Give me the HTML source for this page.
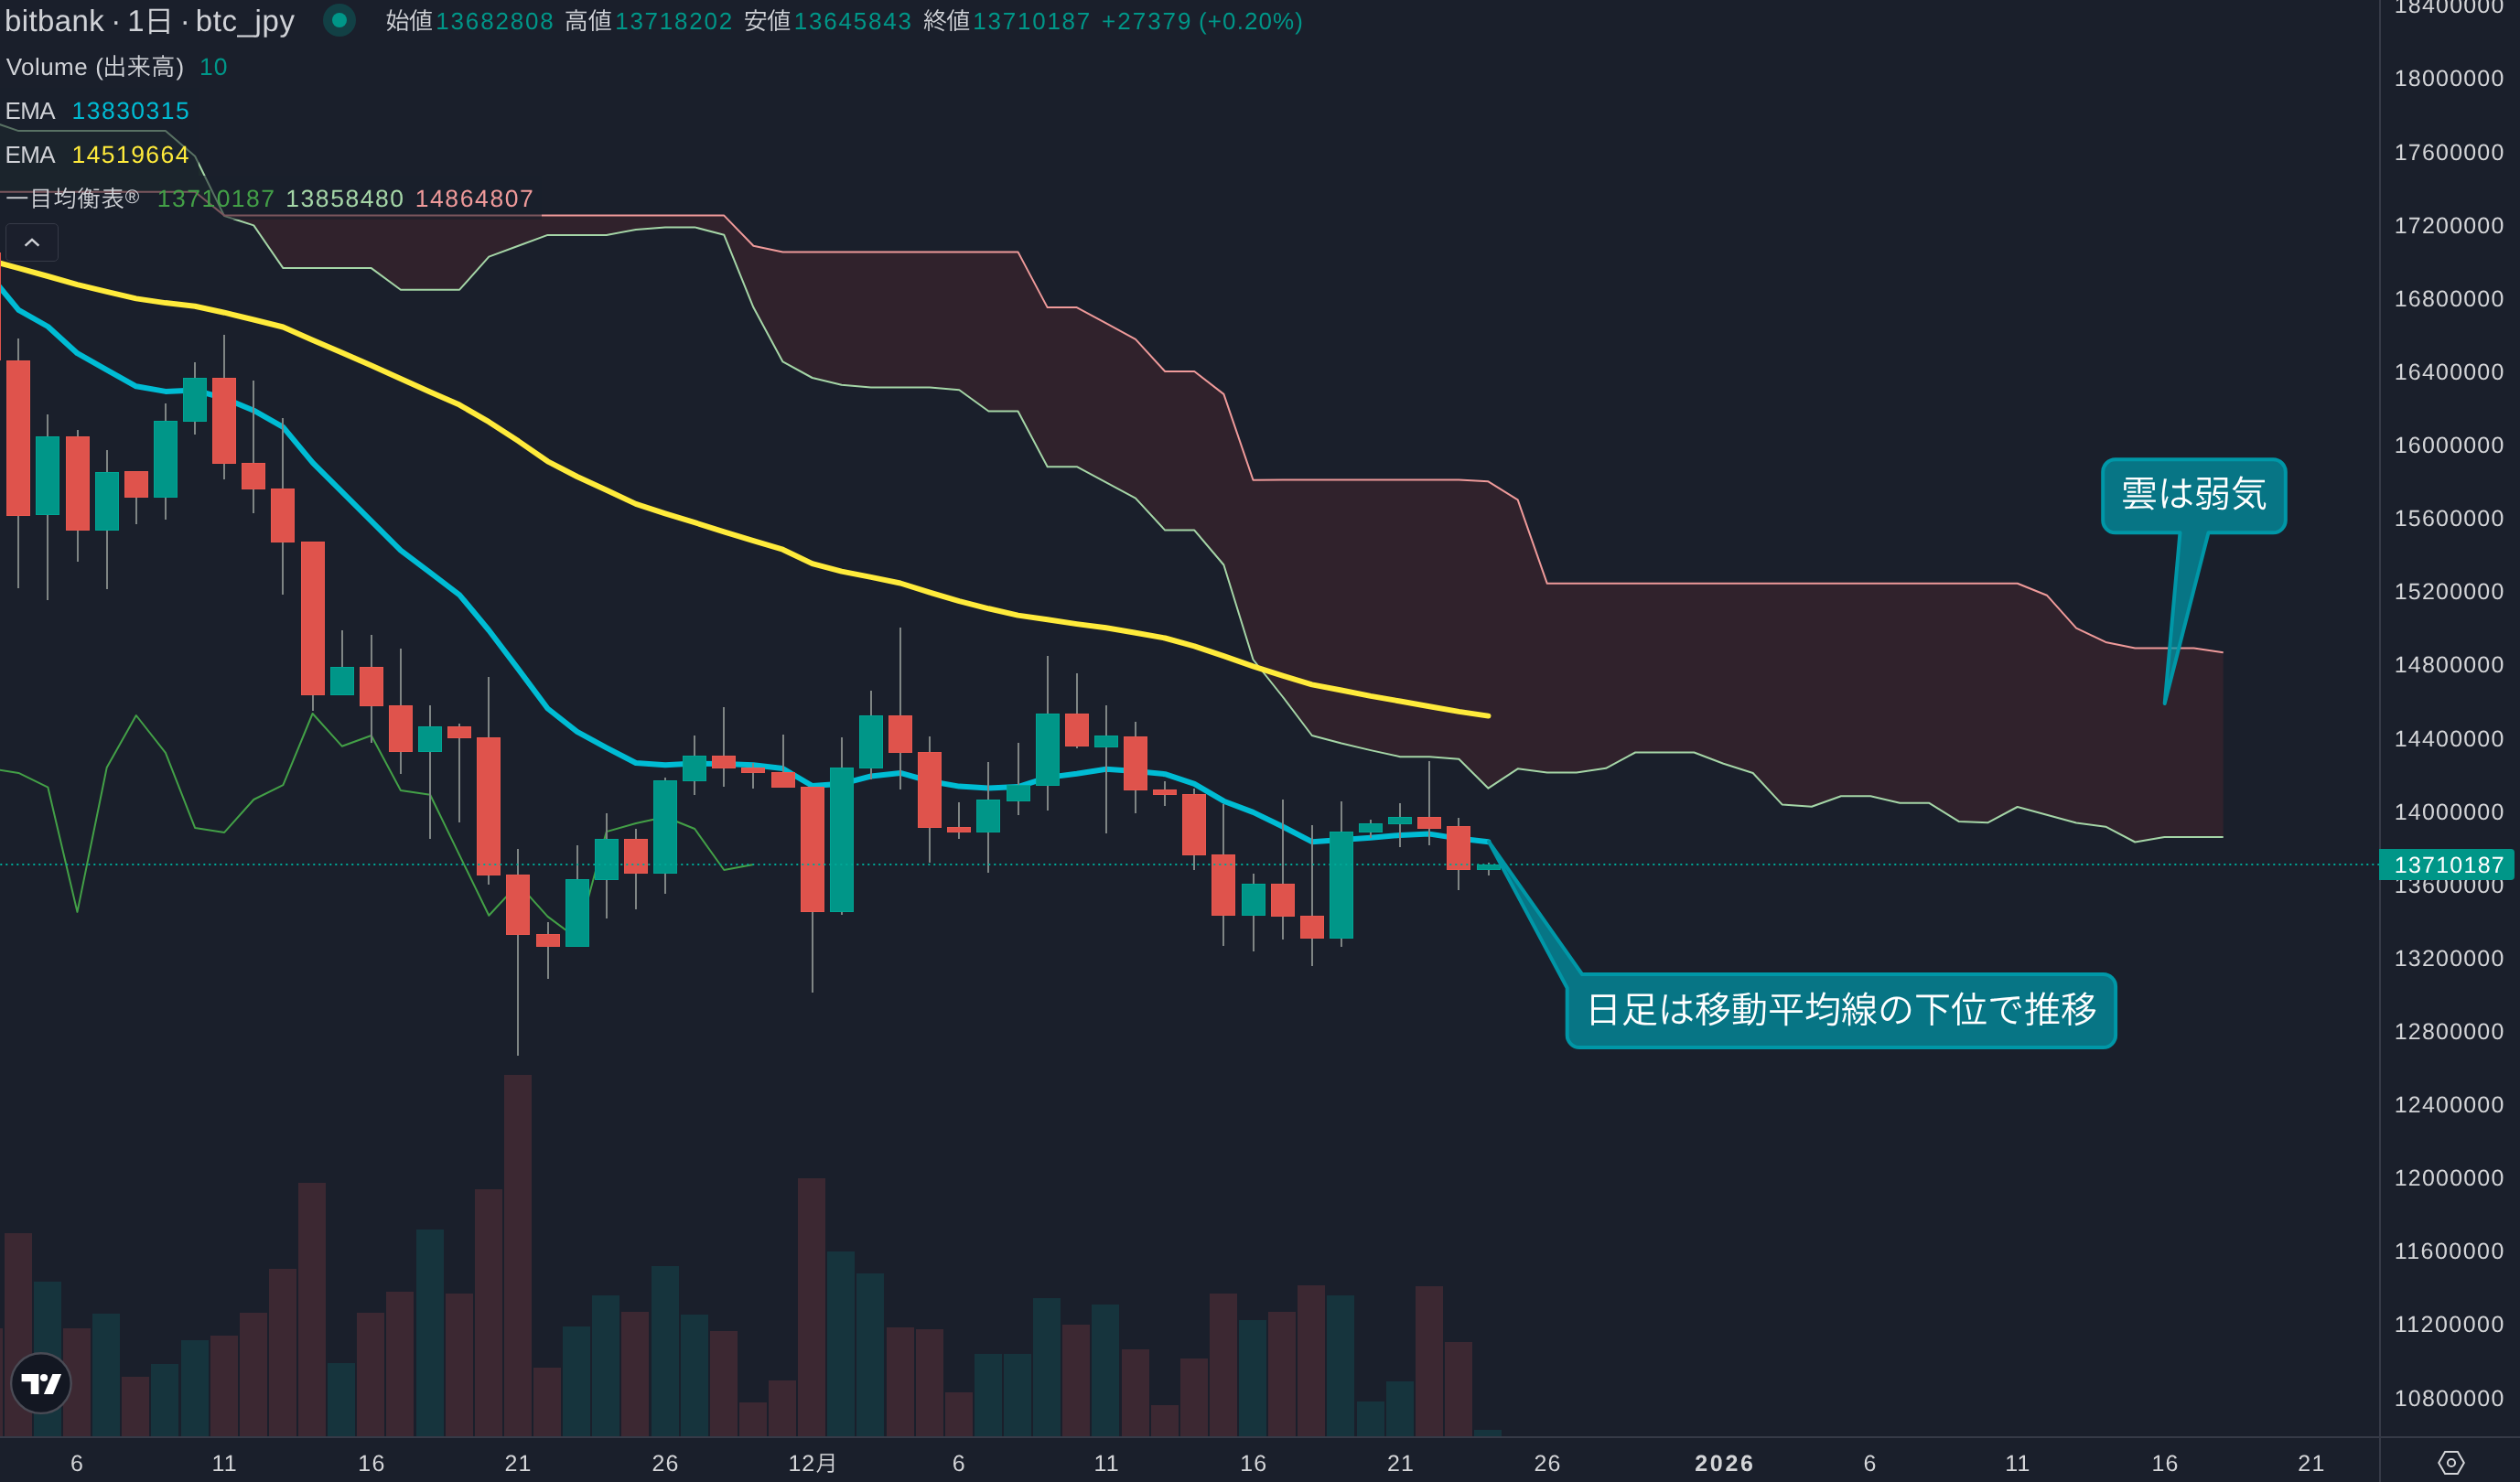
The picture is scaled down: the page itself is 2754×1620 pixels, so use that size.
<!DOCTYPE html>
<html lang="ja"><head><meta charset="utf-8"><title>bitbank btc_jpy</title>
<style>html,body{margin:0;padding:0;background:#1a1f2b;overflow:hidden}svg{display:block}text{text-rendering:geometricPrecision}</style></head>
<body>
<svg width="2754" height="1620" viewBox="0 0 2754 1620" style="display:block;will-change:transform">
<rect width="2754" height="1620" fill="#1a1f2b"/>
<defs><clipPath id="pane"><rect x="0" y="0" width="2600" height="1570"/></clipPath></defs>
<g clip-path="url(#pane)">
<g shape-rendering="crispEdges">
<rect x="-27" y="1452" width="30" height="118" fill="#3c2832"/>
<rect x="5" y="1348" width="30" height="222" fill="#3c2832"/>
<rect x="37" y="1401" width="30" height="169" fill="#16343d"/>
<rect x="69" y="1452" width="30" height="118" fill="#3c2832"/>
<rect x="101" y="1436" width="30" height="134" fill="#16343d"/>
<rect x="133" y="1505" width="30" height="65" fill="#3c2832"/>
<rect x="165" y="1491" width="30" height="79" fill="#16343d"/>
<rect x="198" y="1465" width="30" height="105" fill="#16343d"/>
<rect x="230" y="1460" width="30" height="110" fill="#3c2832"/>
<rect x="262" y="1435" width="30" height="135" fill="#3c2832"/>
<rect x="294" y="1387" width="30" height="183" fill="#3c2832"/>
<rect x="326" y="1293" width="30" height="277" fill="#3c2832"/>
<rect x="358" y="1490" width="30" height="80" fill="#16343d"/>
<rect x="390" y="1435" width="30" height="135" fill="#3c2832"/>
<rect x="422" y="1412" width="30" height="158" fill="#3c2832"/>
<rect x="455" y="1344" width="30" height="226" fill="#16343d"/>
<rect x="487" y="1414" width="30" height="156" fill="#3c2832"/>
<rect x="519" y="1300" width="30" height="270" fill="#3c2832"/>
<rect x="551" y="1175" width="30" height="395" fill="#3c2832"/>
<rect x="583" y="1495" width="30" height="75" fill="#3c2832"/>
<rect x="615" y="1450" width="30" height="120" fill="#16343d"/>
<rect x="647" y="1416" width="30" height="154" fill="#16343d"/>
<rect x="679" y="1434" width="30" height="136" fill="#3c2832"/>
<rect x="712" y="1384" width="30" height="186" fill="#16343d"/>
<rect x="744" y="1437" width="30" height="133" fill="#16343d"/>
<rect x="776" y="1455" width="30" height="115" fill="#3c2832"/>
<rect x="808" y="1533" width="30" height="37" fill="#3c2832"/>
<rect x="840" y="1509" width="30" height="61" fill="#3c2832"/>
<rect x="872" y="1288" width="30" height="282" fill="#3c2832"/>
<rect x="904" y="1368" width="30" height="202" fill="#16343d"/>
<rect x="936" y="1392" width="30" height="178" fill="#16343d"/>
<rect x="969" y="1451" width="30" height="119" fill="#3c2832"/>
<rect x="1001" y="1453" width="30" height="117" fill="#3c2832"/>
<rect x="1033" y="1522" width="30" height="48" fill="#3c2832"/>
<rect x="1065" y="1480" width="30" height="90" fill="#16343d"/>
<rect x="1097" y="1480" width="30" height="90" fill="#16343d"/>
<rect x="1129" y="1419" width="30" height="151" fill="#16343d"/>
<rect x="1161" y="1448" width="30" height="122" fill="#3c2832"/>
<rect x="1193" y="1426" width="30" height="144" fill="#16343d"/>
<rect x="1226" y="1475" width="30" height="95" fill="#3c2832"/>
<rect x="1258" y="1536" width="30" height="34" fill="#3c2832"/>
<rect x="1290" y="1485" width="30" height="85" fill="#3c2832"/>
<rect x="1322" y="1414" width="30" height="156" fill="#3c2832"/>
<rect x="1354" y="1443" width="30" height="127" fill="#16343d"/>
<rect x="1386" y="1434" width="30" height="136" fill="#3c2832"/>
<rect x="1418" y="1405" width="30" height="165" fill="#3c2832"/>
<rect x="1450" y="1416" width="30" height="154" fill="#16343d"/>
<rect x="1483" y="1532" width="30" height="38" fill="#16343d"/>
<rect x="1515" y="1510" width="30" height="60" fill="#16343d"/>
<rect x="1547" y="1406" width="30" height="164" fill="#3c2832"/>
<rect x="1579" y="1467" width="30" height="103" fill="#3c2832"/>
<rect x="1611" y="1563" width="30" height="7" fill="#16343d"/>
</g>
<polygon points="-11.8,132.0 20.3,143.1 52.4,143.1 84.5,143.1 116.7,143.1 148.8,143.1 180.9,143.1 213.1,170.8 245.2,236.1 245.2,235.6 213.1,209.7 180.9,209.7 148.8,209.7 116.7,209.7 84.5,209.7 52.4,209.7 20.3,209.7 -11.8,209.7" fill="rgba(67,160,71,0.10)"/>
<polygon points="245.2,236.1 277.3,246.4 309.4,293.1 341.6,293.1 373.7,293.1 405.8,293.1 437.9,316.7 470.1,316.7 502.2,316.7 534.3,280.6 566.4,268.7 598.5,256.9 630.7,256.9 662.8,256.9 694.9,250.9 727.0,248.4 759.2,248.4 791.3,256.8 823.4,336.1 855.5,395.4 887.7,413.0 919.8,420.7 951.9,423.5 984.0,423.5 1016.2,423.5 1048.3,426.3 1080.4,449.5 1112.5,449.5 1144.7,510.2 1176.8,510.2 1208.9,527.4 1241.0,544.6 1273.2,579.6 1305.3,579.6 1337.4,617.5 1369.5,721.0 1401.7,761.5 1433.8,804.0 1465.9,812.5 1498.0,820.1 1530.2,827.2 1562.3,827.2 1594.4,829.7 1626.5,861.7 1658.7,840.3 1690.8,844.4 1722.9,844.4 1755.0,839.8 1787.2,822.5 1819.3,822.5 1851.4,822.5 1883.5,834.7 1915.7,845.0 1947.8,879.6 1979.9,881.7 2012.0,870.3 2044.2,870.3 2076.3,877.8 2108.4,877.8 2140.6,897.9 2172.7,899.2 2204.8,882.0 2236.9,890.7 2269.1,899.5 2301.2,903.7 2333.3,920.5 2365.4,915.0 2397.6,915.0 2429.7,915.0 2429.7,713.2 2397.6,708.4 2365.4,708.4 2333.3,708.4 2301.2,701.9 2269.1,686.7 2236.9,650.7 2204.8,637.8 2172.7,637.8 2140.6,637.8 2108.4,637.8 2076.3,637.8 2044.2,637.8 2012.0,637.8 1979.9,637.8 1947.8,637.8 1915.7,637.8 1883.5,637.8 1851.4,637.8 1819.3,637.8 1787.2,637.8 1755.0,637.8 1722.9,637.8 1690.8,637.8 1658.7,546.4 1626.5,526.3 1594.4,524.5 1562.3,524.5 1530.2,524.5 1498.0,524.5 1465.9,524.5 1433.8,524.5 1401.7,524.5 1369.5,524.7 1337.4,430.9 1305.3,406.0 1273.2,406.0 1241.0,370.9 1208.9,353.3 1176.8,336.1 1144.7,336.1 1112.5,275.4 1080.4,275.4 1048.3,275.4 1016.2,275.4 984.0,275.4 951.9,275.4 919.8,275.4 887.7,275.4 855.5,275.4 823.4,268.8 791.3,235.6 759.2,235.6 727.0,235.6 694.9,235.6 662.8,235.6 630.7,235.6 598.5,235.6 566.4,235.6 534.3,235.6 502.2,235.6 470.1,235.6 437.9,235.6 405.8,235.6 373.7,235.6 341.6,235.6 309.4,235.6 277.3,235.6 245.2,235.6" fill="rgba(244,67,54,0.10)"/>
<polyline points="-11.8,132.0 20.3,143.1 52.4,143.1 84.5,143.1 116.7,143.1 148.8,143.1 180.9,143.1 213.1,170.8 245.2,236.1 277.3,246.4 309.4,293.1 341.6,293.1 373.7,293.1 405.8,293.1 437.9,316.7 470.1,316.7 502.2,316.7 534.3,280.6 566.4,268.7 598.5,256.9 630.7,256.9 662.8,256.9 694.9,250.9 727.0,248.4 759.2,248.4 791.3,256.8 823.4,336.1 855.5,395.4 887.7,413.0 919.8,420.7 951.9,423.5 984.0,423.5 1016.2,423.5 1048.3,426.3 1080.4,449.5 1112.5,449.5 1144.7,510.2 1176.8,510.2 1208.9,527.4 1241.0,544.6 1273.2,579.6 1305.3,579.6 1337.4,617.5 1369.5,721.0 1401.7,761.5 1433.8,804.0 1465.9,812.5 1498.0,820.1 1530.2,827.2 1562.3,827.2 1594.4,829.7 1626.5,861.7 1658.7,840.3 1690.8,844.4 1722.9,844.4 1755.0,839.8 1787.2,822.5 1819.3,822.5 1851.4,822.5 1883.5,834.7 1915.7,845.0 1947.8,879.6 1979.9,881.7 2012.0,870.3 2044.2,870.3 2076.3,877.8 2108.4,877.8 2140.6,897.9 2172.7,899.2 2204.8,882.0 2236.9,890.7 2269.1,899.5 2301.2,903.7 2333.3,920.5 2365.4,915.0 2397.6,915.0 2429.7,915.0" fill="none" stroke="#a5d6a7" stroke-width="2" stroke-linejoin="round"/>
<polyline points="-11.8,209.7 20.3,209.7 52.4,209.7 84.5,209.7 116.7,209.7 148.8,209.7 180.9,209.7 213.1,209.7 245.2,235.6 277.3,235.6 309.4,235.6 341.6,235.6 373.7,235.6 405.8,235.6 437.9,235.6 470.1,235.6 502.2,235.6 534.3,235.6 566.4,235.6 598.5,235.6 630.7,235.6 662.8,235.6 694.9,235.6 727.0,235.6 759.2,235.6 791.3,235.6 823.4,268.8 855.5,275.4 887.7,275.4 919.8,275.4 951.9,275.4 984.0,275.4 1016.2,275.4 1048.3,275.4 1080.4,275.4 1112.5,275.4 1144.7,336.1 1176.8,336.1 1208.9,353.3 1241.0,370.9 1273.2,406.0 1305.3,406.0 1337.4,430.9 1369.5,524.7 1401.7,524.5 1433.8,524.5 1465.9,524.5 1498.0,524.5 1530.2,524.5 1562.3,524.5 1594.4,524.5 1626.5,526.3 1658.7,546.4 1690.8,637.8 1722.9,637.8 1755.0,637.8 1787.2,637.8 1819.3,637.8 1851.4,637.8 1883.5,637.8 1915.7,637.8 1947.8,637.8 1979.9,637.8 2012.0,637.8 2044.2,637.8 2076.3,637.8 2108.4,637.8 2140.6,637.8 2172.7,637.8 2204.8,637.8 2236.9,650.7 2269.1,686.7 2301.2,701.9 2333.3,708.4 2365.4,708.4 2397.6,708.4 2429.7,713.2" fill="none" stroke="#ef9a9a" stroke-width="2" stroke-linejoin="round"/>
<polyline points="-11.8,839.8 20.3,844.9 52.4,860.7 84.5,996.9 116.7,839.0 148.8,782.0 180.9,822.9 213.1,904.9 245.2,909.9 277.3,874.0 309.4,858.2 341.6,780.0 373.7,815.7 405.8,804.0 437.9,864.0 470.1,868.8 502.2,934.9 534.3,1000.8 566.4,966.1 598.5,1001.9 630.7,1025.8 662.8,909.1 694.9,900.0 727.0,893.0 759.2,906.0 791.3,951.0 823.4,945.0" fill="none" stroke="#43a047" stroke-width="2" stroke-linejoin="round"/>
<polyline points="-11.8,284.5 20.3,293.2 52.4,302.0 84.5,311.1 116.7,318.9 148.8,326.4 180.9,331.1 213.1,334.8 245.2,341.7 277.3,349.5 309.4,357.5 341.6,371.7 373.7,385.6 405.8,399.5 437.9,414.0 470.1,428.4 502.2,442.6 534.3,461.2 566.4,482.1 598.5,504.3 630.7,521.0 662.8,535.7 694.9,550.9 727.0,561.4 759.2,571.2 791.3,581.4 823.4,591.2 855.5,600.7 887.7,616.1 919.8,624.6 951.9,630.9 984.0,637.5 1016.2,647.7 1048.3,657.2 1080.4,665.3 1112.5,672.6 1144.7,677.2 1176.8,682.1 1208.9,686.3 1241.0,691.7 1273.2,697.5 1305.3,706.3 1337.4,717.2 1369.5,728.4 1401.7,738.7 1433.8,748.4 1465.9,754.5 1498.0,760.9 1530.2,766.5 1562.3,772.3 1594.4,777.9 1626.5,782.6" fill="none" stroke="#ffeb3b" stroke-width="6" stroke-linejoin="round" stroke-linecap="round"/>
<polyline points="-11.8,300.0 20.3,338.9 52.4,357.0 84.5,386.2 116.7,404.3 148.8,422.3 180.9,427.9 213.1,426.5 245.2,435.4 277.3,448.7 309.4,466.8 341.6,505.7 373.7,537.7 405.8,569.7 437.9,601.6 470.1,625.8 502.2,650.3 534.3,689.0 566.4,731.4 598.5,774.5 630.7,799.8 662.8,817.3 694.9,834.0 727.0,836.2 759.2,834.6 791.3,835.1 823.4,836.2 855.5,840.1 887.7,859.0 919.8,856.8 951.9,848.5 984.0,844.9 1016.2,854.0 1048.3,859.6 1080.4,861.5 1112.5,860.1 1144.7,849.9 1176.8,845.7 1208.9,840.7 1241.0,842.9 1273.2,846.2 1305.3,856.8 1337.4,875.7 1369.5,887.9 1401.7,903.5 1433.8,920.2 1465.9,918.0 1498.0,915.7 1530.2,913.0 1562.3,911.6 1594.4,916.6 1626.5,920.2" fill="none" stroke="#00bcd4" stroke-width="6" stroke-linejoin="round" stroke-linecap="round"/>
<g shape-rendering="crispEdges">
<rect x="-25" y="276" width="26" height="118" fill="#df534c"/>
<rect x="19" y="370" width="2" height="273" fill="#7f8584"/>
<rect x="7" y="394" width="26" height="170" fill="#e9584f"/>
<rect x="8" y="395" width="24" height="168" fill="#df534c"/>
<rect x="51" y="453" width="2" height="203" fill="#7f8584"/>
<rect x="39" y="477" width="26" height="86" fill="#00a594"/>
<rect x="40" y="478" width="24" height="84" fill="#009688"/>
<rect x="84" y="470" width="2" height="144" fill="#7f8584"/>
<rect x="72" y="477" width="26" height="103" fill="#e9584f"/>
<rect x="73" y="478" width="24" height="101" fill="#df534c"/>
<rect x="116" y="492" width="2" height="152" fill="#7f8584"/>
<rect x="104" y="516" width="26" height="64" fill="#00a594"/>
<rect x="105" y="517" width="24" height="62" fill="#009688"/>
<rect x="148" y="515" width="2" height="58" fill="#7f8584"/>
<rect x="136" y="515" width="26" height="29" fill="#e9584f"/>
<rect x="137" y="516" width="24" height="27" fill="#df534c"/>
<rect x="180" y="441" width="2" height="127" fill="#7f8584"/>
<rect x="168" y="460" width="26" height="84" fill="#00a594"/>
<rect x="169" y="461" width="24" height="82" fill="#009688"/>
<rect x="212" y="396" width="2" height="79" fill="#7f8584"/>
<rect x="200" y="413" width="26" height="48" fill="#00a594"/>
<rect x="201" y="414" width="24" height="46" fill="#009688"/>
<rect x="244" y="366" width="2" height="158" fill="#7f8584"/>
<rect x="232" y="413" width="26" height="94" fill="#e9584f"/>
<rect x="233" y="414" width="24" height="92" fill="#df534c"/>
<rect x="276" y="416" width="2" height="145" fill="#7f8584"/>
<rect x="264" y="506" width="26" height="29" fill="#e9584f"/>
<rect x="265" y="507" width="24" height="27" fill="#df534c"/>
<rect x="308" y="457" width="2" height="193" fill="#7f8584"/>
<rect x="296" y="534" width="26" height="59" fill="#e9584f"/>
<rect x="297" y="535" width="24" height="57" fill="#df534c"/>
<rect x="341" y="592" width="2" height="185" fill="#7f8584"/>
<rect x="329" y="592" width="26" height="168" fill="#e9584f"/>
<rect x="330" y="593" width="24" height="166" fill="#df534c"/>
<rect x="373" y="689" width="2" height="71" fill="#7f8584"/>
<rect x="361" y="729" width="26" height="31" fill="#00a594"/>
<rect x="362" y="730" width="24" height="29" fill="#009688"/>
<rect x="405" y="694" width="2" height="118" fill="#7f8584"/>
<rect x="393" y="729" width="26" height="43" fill="#e9584f"/>
<rect x="394" y="730" width="24" height="41" fill="#df534c"/>
<rect x="437" y="709" width="2" height="137" fill="#7f8584"/>
<rect x="425" y="771" width="26" height="51" fill="#e9584f"/>
<rect x="426" y="772" width="24" height="49" fill="#df534c"/>
<rect x="469" y="771" width="2" height="146" fill="#7f8584"/>
<rect x="457" y="794" width="26" height="28" fill="#00a594"/>
<rect x="458" y="795" width="24" height="26" fill="#009688"/>
<rect x="501" y="791" width="2" height="108" fill="#7f8584"/>
<rect x="489" y="794" width="26" height="13" fill="#e9584f"/>
<rect x="490" y="795" width="24" height="11" fill="#df534c"/>
<rect x="533" y="740" width="2" height="227" fill="#7f8584"/>
<rect x="521" y="806" width="26" height="151" fill="#e9584f"/>
<rect x="522" y="807" width="24" height="149" fill="#df534c"/>
<rect x="565" y="928" width="2" height="226" fill="#7f8584"/>
<rect x="553" y="956" width="26" height="66" fill="#e9584f"/>
<rect x="554" y="957" width="24" height="64" fill="#df534c"/>
<rect x="598" y="1008" width="2" height="62" fill="#7f8584"/>
<rect x="586" y="1021" width="26" height="14" fill="#e9584f"/>
<rect x="587" y="1022" width="24" height="12" fill="#df534c"/>
<rect x="630" y="924" width="2" height="111" fill="#7f8584"/>
<rect x="618" y="961" width="26" height="74" fill="#00a594"/>
<rect x="619" y="962" width="24" height="72" fill="#009688"/>
<rect x="662" y="889" width="2" height="115" fill="#7f8584"/>
<rect x="650" y="917" width="26" height="45" fill="#00a594"/>
<rect x="651" y="918" width="24" height="43" fill="#009688"/>
<rect x="694" y="906" width="2" height="88" fill="#7f8584"/>
<rect x="682" y="917" width="26" height="38" fill="#e9584f"/>
<rect x="683" y="918" width="24" height="36" fill="#df534c"/>
<rect x="726" y="850" width="2" height="127" fill="#7f8584"/>
<rect x="714" y="853" width="26" height="102" fill="#00a594"/>
<rect x="715" y="854" width="24" height="100" fill="#009688"/>
<rect x="758" y="804" width="2" height="65" fill="#7f8584"/>
<rect x="746" y="826" width="26" height="28" fill="#00a594"/>
<rect x="747" y="827" width="24" height="26" fill="#009688"/>
<rect x="790" y="773" width="2" height="87" fill="#7f8584"/>
<rect x="778" y="826" width="26" height="14" fill="#e9584f"/>
<rect x="779" y="827" width="24" height="12" fill="#df534c"/>
<rect x="822" y="834" width="2" height="28" fill="#7f8584"/>
<rect x="810" y="839" width="26" height="6" fill="#e9584f"/>
<rect x="811" y="840" width="24" height="4" fill="#df534c"/>
<rect x="855" y="803" width="2" height="58" fill="#7f8584"/>
<rect x="843" y="844" width="26" height="17" fill="#e9584f"/>
<rect x="844" y="845" width="24" height="15" fill="#df534c"/>
<rect x="887" y="860" width="2" height="225" fill="#7f8584"/>
<rect x="875" y="860" width="26" height="137" fill="#e9584f"/>
<rect x="876" y="861" width="24" height="135" fill="#df534c"/>
<rect x="919" y="806" width="2" height="194" fill="#7f8584"/>
<rect x="907" y="839" width="26" height="158" fill="#00a594"/>
<rect x="908" y="840" width="24" height="156" fill="#009688"/>
<rect x="951" y="755" width="2" height="97" fill="#7f8584"/>
<rect x="939" y="782" width="26" height="58" fill="#00a594"/>
<rect x="940" y="783" width="24" height="56" fill="#009688"/>
<rect x="983" y="686" width="2" height="177" fill="#7f8584"/>
<rect x="971" y="782" width="26" height="41" fill="#e9584f"/>
<rect x="972" y="783" width="24" height="39" fill="#df534c"/>
<rect x="1015" y="805" width="2" height="138" fill="#7f8584"/>
<rect x="1003" y="822" width="26" height="83" fill="#e9584f"/>
<rect x="1004" y="823" width="24" height="81" fill="#df534c"/>
<rect x="1047" y="877" width="2" height="40" fill="#7f8584"/>
<rect x="1035" y="904" width="26" height="6" fill="#e9584f"/>
<rect x="1036" y="905" width="24" height="4" fill="#df534c"/>
<rect x="1079" y="833" width="2" height="121" fill="#7f8584"/>
<rect x="1067" y="874" width="26" height="36" fill="#00a594"/>
<rect x="1068" y="875" width="24" height="34" fill="#009688"/>
<rect x="1112" y="812" width="2" height="79" fill="#7f8584"/>
<rect x="1100" y="858" width="26" height="18" fill="#00a594"/>
<rect x="1101" y="859" width="24" height="16" fill="#009688"/>
<rect x="1144" y="717" width="2" height="169" fill="#7f8584"/>
<rect x="1132" y="780" width="26" height="79" fill="#00a594"/>
<rect x="1133" y="781" width="24" height="77" fill="#009688"/>
<rect x="1176" y="736" width="2" height="82" fill="#7f8584"/>
<rect x="1164" y="780" width="26" height="36" fill="#e9584f"/>
<rect x="1165" y="781" width="24" height="34" fill="#df534c"/>
<rect x="1208" y="771" width="2" height="140" fill="#7f8584"/>
<rect x="1196" y="804" width="26" height="13" fill="#00a594"/>
<rect x="1197" y="805" width="24" height="11" fill="#009688"/>
<rect x="1240" y="789" width="2" height="100" fill="#7f8584"/>
<rect x="1228" y="805" width="26" height="59" fill="#e9584f"/>
<rect x="1229" y="806" width="24" height="57" fill="#df534c"/>
<rect x="1272" y="854" width="2" height="27" fill="#7f8584"/>
<rect x="1260" y="863" width="26" height="6" fill="#e9584f"/>
<rect x="1261" y="864" width="24" height="4" fill="#df534c"/>
<rect x="1304" y="862" width="2" height="89" fill="#7f8584"/>
<rect x="1292" y="868" width="26" height="67" fill="#e9584f"/>
<rect x="1293" y="869" width="24" height="65" fill="#df534c"/>
<rect x="1336" y="879" width="2" height="155" fill="#7f8584"/>
<rect x="1324" y="934" width="26" height="67" fill="#e9584f"/>
<rect x="1325" y="935" width="24" height="65" fill="#df534c"/>
<rect x="1369" y="955" width="2" height="85" fill="#7f8584"/>
<rect x="1357" y="966" width="26" height="35" fill="#00a594"/>
<rect x="1358" y="967" width="24" height="33" fill="#009688"/>
<rect x="1401" y="874" width="2" height="153" fill="#7f8584"/>
<rect x="1389" y="966" width="26" height="36" fill="#e9584f"/>
<rect x="1390" y="967" width="24" height="34" fill="#df534c"/>
<rect x="1433" y="902" width="2" height="154" fill="#7f8584"/>
<rect x="1421" y="1001" width="26" height="25" fill="#e9584f"/>
<rect x="1422" y="1002" width="24" height="23" fill="#df534c"/>
<rect x="1465" y="876" width="2" height="159" fill="#7f8584"/>
<rect x="1453" y="909" width="26" height="117" fill="#00a594"/>
<rect x="1454" y="910" width="24" height="115" fill="#009688"/>
<rect x="1497" y="896" width="2" height="20" fill="#7f8584"/>
<rect x="1485" y="900" width="26" height="10" fill="#00a594"/>
<rect x="1486" y="901" width="24" height="8" fill="#009688"/>
<rect x="1529" y="878" width="2" height="48" fill="#7f8584"/>
<rect x="1517" y="893" width="26" height="8" fill="#00a594"/>
<rect x="1518" y="894" width="24" height="6" fill="#009688"/>
<rect x="1561" y="832" width="2" height="92" fill="#7f8584"/>
<rect x="1549" y="893" width="26" height="13" fill="#e9584f"/>
<rect x="1550" y="894" width="24" height="11" fill="#df534c"/>
<rect x="1593" y="894" width="2" height="79" fill="#7f8584"/>
<rect x="1581" y="903" width="26" height="48" fill="#e9584f"/>
<rect x="1582" y="904" width="24" height="46" fill="#df534c"/>
<rect x="1626" y="943" width="2" height="14" fill="#7f8584"/>
<rect x="1614" y="945" width="26" height="6" fill="#00a594"/>
<rect x="1615" y="946" width="24" height="4" fill="#009688"/>
</g>
<line x1="0.3" y1="945" x2="2600" y2="945" stroke="#00a896" stroke-width="2" stroke-dasharray="2 4"/>
</g>
<path d="M2311.7,502.3 H2484.3 A13.5,13.5 0 0 1 2497.8,515.8 V568.8 A13.5,13.5 0 0 1 2484.3,582.3 H2413.5 L2365.7,769 L2382.5,582.3 H2311.7 A13.5,13.5 0 0 1 2298.2,568.8 V515.8 A13.5,13.5 0 0 1 2311.7,502.3 Z" fill="rgba(0,151,167,0.72)" stroke="#0097a7" stroke-width="4" stroke-linejoin="round"/>
<path d="M1729,1065 H2298.6 A13.5,13.5 0 0 1 2312.1,1078.5 V1131.5 A13.5,13.5 0 0 1 2298.6,1145 H1726.2 A13.5,13.5 0 0 1 1712.7,1131.5 V1080 L1627,920 Z" fill="rgba(0,151,167,0.72)" stroke="#0097a7" stroke-width="4" stroke-linejoin="round"/>
<text x="2398" y="554.3" font-family='"Liberation Sans","Noto Sans CJK JP",sans-serif' font-size="40" font-weight="350" fill="#fff" text-anchor="middle">雲は弱気</text>
<text x="2012" y="1118.3" font-family='"Liberation Sans","Noto Sans CJK JP",sans-serif' font-size="40" font-weight="350" fill="#fff" text-anchor="middle">日足は移動平均線の下位で推移</text>
<rect x="0" y="96" width="217" height="48" fill="rgba(26,31,43,0.55)"/>
<rect x="0" y="144" width="217" height="48" fill="rgba(26,31,43,0.55)"/>
<rect x="0" y="192" width="592" height="48" fill="rgba(26,31,43,0.55)"/>
<text x="4.88" y="34.2" font-family='"Liberation Sans",sans-serif' font-size="33" fill="#d0d2d7" style="letter-spacing:0.425px">bitbank</text>
<text x="126.7" y="34.2" font-family='"Liberation Sans",sans-serif' font-size="33" fill="#d0d2d7" text-anchor="middle">·</text>
<text x="139.2" y="34.2" font-family='"Liberation Sans",sans-serif' font-size="33" fill="#d0d2d7">1</text>
<text x="157.25" y="34.6" font-family='"Liberation Sans","Noto Sans CJK JP",sans-serif' font-size="33" fill="#d0d2d7" font-weight="350" style="letter-spacing:0.000px">日</text>
<text x="202.2" y="34.2" font-family='"Liberation Sans",sans-serif' font-size="33" fill="#d0d2d7" text-anchor="middle">·</text>
<text x="213.68" y="34.2" font-family='"Liberation Sans",sans-serif' font-size="33" fill="#d0d2d7" style="letter-spacing:0.608px">btc_jpy</text>
<circle cx="371" cy="22" r="18" fill="rgba(0,150,136,0.28)"/><circle cx="371" cy="22" r="8" fill="#009688"/>
<text x="421.38" y="32.4" font-family='"Liberation Sans","Noto Sans CJK JP",sans-serif' font-size="26" fill="#d0d2d7" font-weight="350" style="letter-spacing:-0.375px">始値</text>
<text x="476.30" y="31.7" font-family='"Liberation Sans",sans-serif' font-size="26" fill="#009688" style="letter-spacing:1.825px">13682808</text>
<text x="616.67" y="32.4" font-family='"Liberation Sans","Noto Sans CJK JP",sans-serif' font-size="26" fill="#d0d2d7" font-weight="350" style="letter-spacing:0.125px">高値</text>
<text x="672.20" y="31.7" font-family='"Liberation Sans",sans-serif' font-size="26" fill="#009688" style="letter-spacing:1.746px">13718202</text>
<text x="812.70" y="32.4" font-family='"Liberation Sans","Noto Sans CJK JP",sans-serif' font-size="26" fill="#d0d2d7" font-weight="350" style="letter-spacing:-0.400px">安値</text>
<text x="867.70" y="31.7" font-family='"Liberation Sans",sans-serif' font-size="26" fill="#009688" style="letter-spacing:1.811px">13645843</text>
<text x="1009.08" y="32.4" font-family='"Liberation Sans","Noto Sans CJK JP",sans-serif' font-size="26" fill="#d0d2d7" font-weight="350" style="letter-spacing:-0.875px">終値</text>
<text x="1063.30" y="31.7" font-family='"Liberation Sans",sans-serif' font-size="26" fill="#009688" style="letter-spacing:1.761px">13710187</text>
<text x="1204.05" y="31.7" font-family='"Liberation Sans",sans-serif' font-size="26" fill="#009688" style="letter-spacing:2.000px">+27379</text>
<text x="1310.08" y="31.7" font-family='"Liberation Sans",sans-serif' font-size="26" fill="#009688" style="letter-spacing:1.096px">(+0.20%)</text>
<text x="6.67" y="81.8" font-family='"Liberation Sans",sans-serif' font-size="26" fill="#d0d2d7" style="letter-spacing:0.460px">Volume</text>
<text x="104.17" y="81.8" font-family='"Liberation Sans",sans-serif' font-size="26" fill="#d0d2d7" style="letter-spacing:0.000px">(</text>
<text x="112.33" y="81.8" font-family='"Liberation Sans","Noto Sans CJK JP",sans-serif' font-size="26" fill="#d0d2d7" font-weight="350" style="letter-spacing:0.512px">出来高</text>
<text x="192.38" y="81.8" font-family='"Liberation Sans",sans-serif' font-size="26" fill="#d0d2d7" style="letter-spacing:0.000px">)</text>
<text x="218.00" y="81.8" font-family='"Liberation Sans",sans-serif' font-size="26.5" fill="#009688" style="letter-spacing:1.000px">10</text>
<text x="5.47" y="130" font-family='"Liberation Sans",sans-serif' font-size="26" fill="#d0d2d7" style="letter-spacing:-0.613px">EMA</text>
<text x="78.50" y="130.1" font-family='"Liberation Sans",sans-serif' font-size="26.5" fill="#00bcd4" style="letter-spacing:1.479px">13830315</text>
<text x="5.47" y="178.2" font-family='"Liberation Sans",sans-serif' font-size="26" fill="#d0d2d7" style="letter-spacing:-0.613px">EMA</text>
<text x="78.50" y="178.3" font-family='"Liberation Sans",sans-serif' font-size="26.5" fill="#ffeb3b" style="letter-spacing:1.425px">14519664</text>
<text x="6.28" y="226.2" font-family='"Liberation Sans","Noto Sans CJK JP",sans-serif' font-size="25" fill="#d0d2d7" font-weight="350" style="letter-spacing:1.100px">一目均衡表</text>
<text x="136.85" y="222" font-family='"Liberation Sans",sans-serif' font-size="21" fill="#d0d2d7" style="letter-spacing:0.000px">®</text>
<text x="171.80" y="226.2" font-family='"Liberation Sans",sans-serif' font-size="26.5" fill="#43a047" style="letter-spacing:1.471px">13710187</text>
<text x="312.30" y="226.2" font-family='"Liberation Sans",sans-serif' font-size="26.5" fill="#a5d6a7" style="letter-spacing:1.546px">13858480</text>
<text x="453.70" y="226.2" font-family='"Liberation Sans",sans-serif' font-size="26.5" fill="#ef9a9a" style="letter-spacing:1.600px">14864807</text>
<rect x="6.5" y="244.5" width="57" height="41" rx="4.5" fill="#1b1f2c" stroke="#363a47" stroke-width="1"/>
<polyline points="27.6,268.7 35,261.9 42.4,268.7" fill="none" stroke="#d0d2d7" stroke-width="2.5" stroke-linecap="butt" stroke-linejoin="miter"/>
<rect x="2600" y="0" width="154" height="1620" fill="#1a1f2b"/>
<rect x="0" y="1570" width="2754" height="50" fill="#1a1f2b"/>
<rect x="2600" y="0" width="2" height="1620" fill="#363a47"/>
<rect x="0" y="1570" width="2754" height="2" fill="#363a47"/>
<text x="2616.72" y="14.3" font-family='"Liberation Sans",sans-serif' font-size="25" fill="#d4d5d8" style="letter-spacing:1.200px">18400000</text>
<text x="2616.72" y="94.4" font-family='"Liberation Sans",sans-serif' font-size="25" fill="#d4d5d8" style="letter-spacing:1.200px">18000000</text>
<text x="2616.72" y="174.5" font-family='"Liberation Sans",sans-serif' font-size="25" fill="#d4d5d8" style="letter-spacing:1.200px">17600000</text>
<text x="2616.72" y="254.6" font-family='"Liberation Sans",sans-serif' font-size="25" fill="#d4d5d8" style="letter-spacing:1.200px">17200000</text>
<text x="2616.72" y="334.8" font-family='"Liberation Sans",sans-serif' font-size="25" fill="#d4d5d8" style="letter-spacing:1.200px">16800000</text>
<text x="2616.72" y="414.9" font-family='"Liberation Sans",sans-serif' font-size="25" fill="#d4d5d8" style="letter-spacing:1.200px">16400000</text>
<text x="2616.72" y="495.0" font-family='"Liberation Sans",sans-serif' font-size="25" fill="#d4d5d8" style="letter-spacing:1.200px">16000000</text>
<text x="2616.72" y="575.1" font-family='"Liberation Sans",sans-serif' font-size="25" fill="#d4d5d8" style="letter-spacing:1.200px">15600000</text>
<text x="2616.72" y="655.2" font-family='"Liberation Sans",sans-serif' font-size="25" fill="#d4d5d8" style="letter-spacing:1.200px">15200000</text>
<text x="2616.72" y="735.3" font-family='"Liberation Sans",sans-serif' font-size="25" fill="#d4d5d8" style="letter-spacing:1.200px">14800000</text>
<text x="2616.72" y="815.5" font-family='"Liberation Sans",sans-serif' font-size="25" fill="#d4d5d8" style="letter-spacing:1.200px">14400000</text>
<text x="2616.72" y="895.6" font-family='"Liberation Sans",sans-serif' font-size="25" fill="#d4d5d8" style="letter-spacing:1.200px">14000000</text>
<text x="2616.72" y="975.7" font-family='"Liberation Sans",sans-serif' font-size="25" fill="#d4d5d8" style="letter-spacing:1.200px">13600000</text>
<text x="2616.72" y="1055.8" font-family='"Liberation Sans",sans-serif' font-size="25" fill="#d4d5d8" style="letter-spacing:1.200px">13200000</text>
<text x="2616.72" y="1135.9" font-family='"Liberation Sans",sans-serif' font-size="25" fill="#d4d5d8" style="letter-spacing:1.200px">12800000</text>
<text x="2616.72" y="1216.0" font-family='"Liberation Sans",sans-serif' font-size="25" fill="#d4d5d8" style="letter-spacing:1.200px">12400000</text>
<text x="2616.72" y="1296.2" font-family='"Liberation Sans",sans-serif' font-size="25" fill="#d4d5d8" style="letter-spacing:1.200px">12000000</text>
<text x="2616.72" y="1376.3" font-family='"Liberation Sans",sans-serif' font-size="25" fill="#d4d5d8" style="letter-spacing:1.468px">11600000</text>
<text x="2616.72" y="1456.4" font-family='"Liberation Sans",sans-serif' font-size="25" fill="#d4d5d8" style="letter-spacing:1.468px">11200000</text>
<text x="2616.72" y="1536.5" font-family='"Liberation Sans",sans-serif' font-size="25" fill="#d4d5d8" style="letter-spacing:1.200px">10800000</text>
<path d="M2600,928 H2744 a4,4 0 0 1 4,4 V958 a4,4 0 0 1 -4,4 H2600 Z" fill="#009688"/>
<text x="2616.72" y="954" font-family='"Liberation Sans",sans-serif' font-size="25" fill="#ffffff" style="letter-spacing:1.254px">13710187</text>
<text x="84.5" y="1608.3" font-family='"Liberation Sans",sans-serif' font-size="25" fill="#d4d5d8" text-anchor="middle" style="letter-spacing:1.2px">6</text>
<text x="245.6" y="1608.3" font-family='"Liberation Sans",sans-serif' font-size="25" fill="#d4d5d8" text-anchor="middle" style="letter-spacing:1.2px">11</text>
<text x="406.40000000000003" y="1608.3" font-family='"Liberation Sans",sans-serif' font-size="25" fill="#d4d5d8" text-anchor="middle" style="letter-spacing:1.2px">16</text>
<text x="566.6" y="1608.3" font-family='"Liberation Sans",sans-serif' font-size="25" fill="#d4d5d8" text-anchor="middle" style="letter-spacing:1.2px">21</text>
<text x="727.6" y="1608.3" font-family='"Liberation Sans",sans-serif' font-size="25" fill="#d4d5d8" text-anchor="middle" style="letter-spacing:1.2px">26</text>
<text x="1048.4" y="1608.3" font-family='"Liberation Sans",sans-serif' font-size="25" fill="#d4d5d8" text-anchor="middle" style="letter-spacing:1.2px">6</text>
<text x="1209.6" y="1608.3" font-family='"Liberation Sans",sans-serif' font-size="25" fill="#d4d5d8" text-anchor="middle" style="letter-spacing:1.2px">11</text>
<text x="1370.3" y="1608.3" font-family='"Liberation Sans",sans-serif' font-size="25" fill="#d4d5d8" text-anchor="middle" style="letter-spacing:1.2px">16</text>
<text x="1531.0" y="1608.3" font-family='"Liberation Sans",sans-serif' font-size="25" fill="#d4d5d8" text-anchor="middle" style="letter-spacing:1.2px">21</text>
<text x="1691.6" y="1608.3" font-family='"Liberation Sans",sans-serif' font-size="25" fill="#d4d5d8" text-anchor="middle" style="letter-spacing:1.2px">26</text>
<text x="2044.1" y="1608.3" font-family='"Liberation Sans",sans-serif' font-size="25" fill="#d4d5d8" text-anchor="middle" style="letter-spacing:1.2px">6</text>
<text x="2205.5" y="1608.3" font-family='"Liberation Sans",sans-serif' font-size="25" fill="#d4d5d8" text-anchor="middle" style="letter-spacing:1.2px">11</text>
<text x="2366.6" y="1608.3" font-family='"Liberation Sans",sans-serif' font-size="25" fill="#d4d5d8" text-anchor="middle" style="letter-spacing:1.2px">16</text>
<text x="2526.4" y="1608.3" font-family='"Liberation Sans",sans-serif' font-size="25" fill="#d4d5d8" text-anchor="middle" style="letter-spacing:1.2px">21</text>
<text x="861.42" y="1608.3" font-family='"Liberation Sans",sans-serif' font-size="25" fill="#d4d5d8" style="letter-spacing:0.975px">12</text>
<text x="891.45" y="1607.8" font-family='"Liberation Sans","Noto Sans CJK JP",sans-serif' font-size="24" fill="#d4d5d8" font-weight="350" style="letter-spacing:0.000px">月</text>
<text x="1852.33" y="1608.3" font-family='"Liberation Sans",sans-serif' font-size="25" fill="#d4d5d8" font-weight="bold" style="letter-spacing:2.642px">2026</text>
<polygon points="2692.8,1599.0 2685.9,1610.9 2672.1,1610.9 2665.2,1599.0 2672.1,1587.1 2685.9,1587.1" fill="none" stroke="#d4d5d8" stroke-width="2" stroke-linejoin="miter"/>
<circle cx="2679" cy="1599" r="4.1" fill="none" stroke="#d4d5d8" stroke-width="2"/>
<circle cx="44.9" cy="1512.1" r="32.8" fill="#131722" stroke="#4a4b55" stroke-width="2.4"/>
<g fill="#fff"><polygon points="23.6,1502 42.4,1502 42.4,1524 33.7,1524 33.7,1510.3 23.6,1510.3"/><circle cx="48.05" cy="1506" r="4.1"/><polygon points="57.4,1502 67.1,1502 58,1524 47.9,1524"/></g>
</svg>
</body></html>
